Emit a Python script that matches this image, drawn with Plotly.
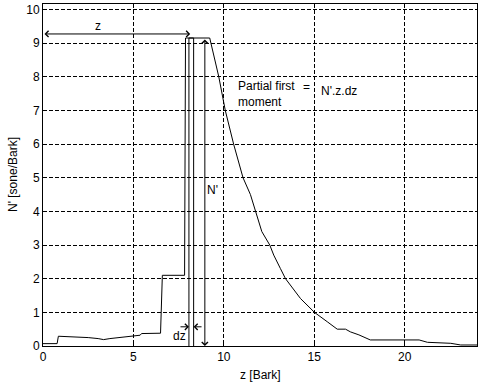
import plotly.graph_objects as go

# Specific loudness curve N'(z)
z_bark = [0, 0.78, 0.85, 1.7, 2.5, 3.05, 3.35, 3.7, 4.5, 5.0, 5.37, 5.45, 6.5, 6.6,
          7.83, 7.88, 9.22, 9.72, 10.08, 10.54, 11.06, 11.47, 11.75, 12.1, 12.54,
          12.76, 13.13, 13.41, 14.24, 15.01, 15.72, 16.27, 16.73, 17.0, 17.47, 18.1,
          20.8, 21.26, 22.55, 23.1, 24.0]
n_prime = [0.07, 0.07, 0.29, 0.28, 0.25, 0.22, 0.19, 0.22, 0.26, 0.29, 0.32, 0.37, 0.38, 2.1,
           2.1, 9.15, 9.15, 8.0, 7.0, 6.0, 5.0, 4.5, 4.0, 3.4, 3.0,
           2.7, 2.3, 2.0, 1.41, 1.0, 0.72, 0.5, 0.5, 0.42, 0.33, 0.18,
           0.18, 0.11, 0.08, 0.03, 0.03]

# Annotation geometry (data units)
strip_left, strip_right, strip_top = 8.07, 8.33, 9.15
z_arrow_y, z_arrow_end = 9.27, 8.14
n_arrow_x = 8.95
dz_y, dz_left_start, dz_right_start = 0.57, 7.52, 8.85

x_ticks = [0, 5, 10, 15, 20]
y_ticks = list(range(0, 11))

FONT = "Liberation Sans, Arial, sans-serif"

fig = go.Figure()
fig.add_trace(go.Scatter(x=z_bark, y=n_prime, mode="lines",
                         line=dict(color="black", width=1), showlegend=False,
                         hoverinfo="skip"))

shapes = []
for xs in (strip_left, strip_right):
    shapes.append(dict(type="line", xref="x", yref="y", x0=xs, x1=xs, y0=0, y1=strip_top,
                       line=dict(color="black", width=1)))
shapes.append(dict(type="line", xref="x", yref="y", x0=strip_left, x1=strip_right,
                   y0=strip_top, y1=strip_top, line=dict(color="black", width=1)))

arrow_kw = dict(showarrow=True, text="", axref="x", ayref="y", xref="x", yref="y",
                arrowhead=4, arrowsize=1.2, arrowwidth=1, arrowcolor="black")
annotations = [
    dict(x=z_arrow_end, y=z_arrow_y, ax=0, ay=z_arrow_y, arrowside="end+start", **arrow_kw),
    dict(x=n_arrow_x, y=0.0, ax=n_arrow_x, ay=strip_top, arrowside="end+start", **arrow_kw),
    dict(x=strip_left, y=dz_y, ax=dz_left_start, ay=dz_y, **arrow_kw),
    dict(x=strip_right, y=dz_y, ax=dz_right_start, ay=dz_y, **arrow_kw),
]

txt = dict(xref="x", yref="y", showarrow=False, font=dict(family=FONT, size=12, color="black"))
annotations += [
    dict(x=3.06, y=9.5, text="z", **txt),
    dict(x=9.36, y=4.63, text="N'", **txt),
    dict(x=7.55, y=0.3, text="dz", **txt),
    dict(x=10.7, y=7.5, text="Partial first<br>moment", xanchor="left", align="left", **txt),
    dict(x=14.57, y=7.68, text="=", **txt),
    dict(x=15.25, y=7.58, text="N'.z.dz", xanchor="left", **txt),
    dict(x=0.5, y=0, xref="paper", yref="paper", xanchor="center", yanchor="middle",
         yshift=-29, text="z [Bark]",
         showarrow=False, font=dict(family=FONT, size=12, color="black")),
    dict(x=0, y=0.5, xref="paper", yref="paper", xanchor="center", yanchor="middle",
         xshift=-30, text="N' [sone/Bark]",
         textangle=-90, showarrow=False, font=dict(family=FONT, size=12, color="black")),
]

axis_common = dict(showline=True, linecolor="black", linewidth=1, mirror=True,
                   showgrid=True, gridcolor="black", gridwidth=1, griddash="4px,2px",
                   zeroline=False, ticks="inside", ticklen=4, tickcolor="black",
                   tickfont=dict(family=FONT, size=12, color="black"))

fig.update_layout(
    width=481, height=386,
    margin=dict(l=43, r=4, t=4, b=40),
    paper_bgcolor="white", plot_bgcolor="white",
    xaxis=dict(range=[0, 24], tickvals=x_ticks, **axis_common),
    yaxis=dict(range=[0, 10.16], tickvals=y_ticks, **axis_common),
    shapes=shapes, annotations=annotations,
)

fig.write_html("out.html")
